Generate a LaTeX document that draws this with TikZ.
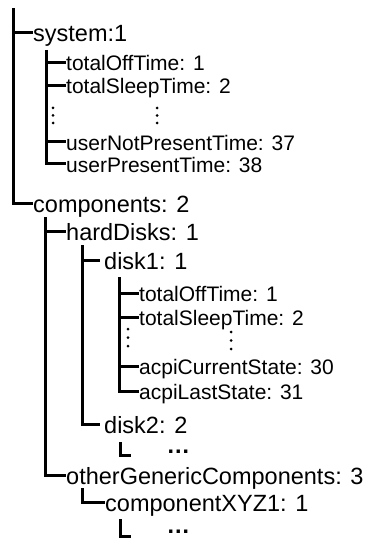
\documentclass[tikz,border=0pt]{standalone}
\usepackage{fontspec}
\setmainfont{Liberation Sans}
\usetikzlibrary{calc}

\tikzset{
  tree/.style = {line width=3pt},
  item/.style = {anchor=west, inner sep=0pt, font=\fontsize{23.5}{28}\selectfont, text height=20pt, text depth=2pt},
  leaf/.style = {anchor=west, inner sep=0pt, font=\fontsize{21}{25}\selectfont, text height=18pt, text depth=2pt},
  more/.style = {anchor=base west, inner sep=0pt, font=\fontsize{23.5}{28}\selectfont\bfseries},
}

\begin{document}
\begin{tikzpicture}[x=1pt, y=-1pt]
	\def\r{1.5pt};

	\useasboundingbox (0,0) rectangle (369,540);

	\begin{scope}
		\coordinate (root) at (13.5,8);
		\node[item] (system) at (33,33) {system:1};
		\node[item] (components) at (33,203) {components: 2};

		\draw[tree] (root) |- (components.west);
		\draw[tree] (root |- system.west) -- (system.west);
	\end{scope}

	\begin{scope}
		\coordinate (sysTop) at (46,50);
		\node[leaf] (sysOff) at (66,63) {totalOffTime: 1};
		\node[leaf] (sysSleep) at (66,86) {totalSleepTime: 2};
		\node[leaf] (sysNot) at (66,142) {userNotPresentTime: 37};
		\node[leaf] (sysPres) at (66,164) {userPresentTime: 38};

		\draw[tree] (sysTop) |- (sysPres.west);
		\foreach \n in {sysOff, sysSleep, sysNot}
			\draw[tree] (sysTop |- \n.west) -- (\n.west);

		\foreach \y in {108, 115.5, 123} {
			\fill (53,\y) circle (\r);
			\fill (157,\y) circle (\r);
		}
	\end{scope}

	\begin{scope}
		\coordinate (compTop) at (45,217);
		\node[item] (hardDisks) at (66,231) {hardDisks: 1};
		\node[item] (otherComp) at (66,475) {otherGenericComponents: 3};

		\draw[tree] (compTop) |- (otherComp.west);
		\draw[tree] (compTop |- hardDisks.west) -- (hardDisks.west);
	\end{scope}

	\begin{scope}
		\coordinate (hdTop) at (82,245);
		\node[item, inner xsep=4pt] (disk1) at (100,260) {disk1: 1};
		\node[item, inner xsep=4pt] (disk2) at (100,424) {disk2: 2};

		\draw[tree] (hdTop) |- (disk2.west);
		\draw[tree] (hdTop |- disk1.west) -- (disk1.west);
	\end{scope}

	\begin{scope}
		\coordinate (d1Top) at (119,277);
		\node[leaf] (d1Off) at (139,293) {totalOffTime: 1};
		\node[leaf] (d1Sleep) at (139,317) {totalSleepTime: 2};
		\node[leaf] (d1Cur) at (139,366) {acpiCurrentState: 30};
		\node[leaf] (d1Last) at (139,391) {acpiLastState: 31};

		\draw[tree] (d1Top) |- (d1Last.west);
		\foreach \n in {d1Off, d1Sleep, d1Cur}
			\draw[tree] (d1Top |- \n.west) -- (\n.west);

		\foreach \y in {329, 337.5, 346} {
			\fill (128,\y) circle (\r);
			\fill (231,\y+3) circle (\r);
		}
	\end{scope}

	\begin{scope}
		\coordinate (d2Top) at (120,442);
		\coordinate (d2End) at (131,455);
		\node[more] (d2More) at (166.5,453) {…};

		\draw[tree] (d2Top) |- (d2End);
	\end{scope}

	\begin{scope}
		\coordinate (ocTop) at (82,488);
		\node[item] (compXYZ) at (105,502) {componentXYZ1: 1};
		\coordinate (xyzTop) at (120,519);
		\coordinate (xyzEnd) at (131,536);
		\node[more] (xyzMore) at (166.5,533) {…};

		\draw[tree] (ocTop) |- (compXYZ.west);
		\draw[tree] (xyzTop) |- (xyzEnd);
	\end{scope}
\end{tikzpicture}
\end{document}
